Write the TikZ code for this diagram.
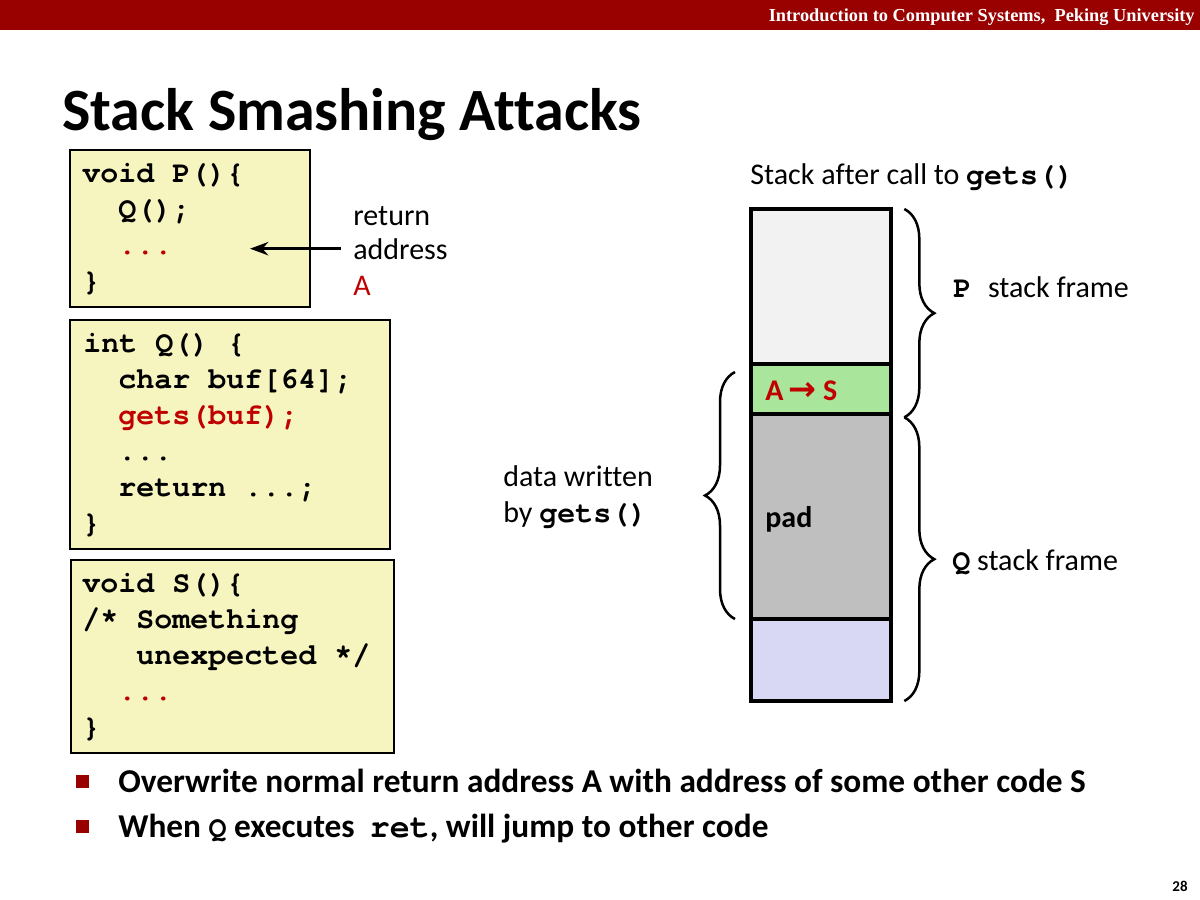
\documentclass[tikz,border=0pt]{standalone}
\usepackage{fontspec}
\setmainfont[Ligatures={NoCommon}]{Carlito}
\setmonofont{TeX Gyre Cursor}
\newfontfamily\timesfont{Liberation Serif}
\newfontfamily\symfont{DejaVu Sans}
\usetikzlibrary{positioning,decorations.pathreplacing,arrows.meta}

\definecolor{hdrred}{RGB}{153,0,0}
\definecolor{codered}{RGB}{192,0,0}
\definecolor{codebg}{RGB}{246,245,192}
\definecolor{stkgray}{RGB}{242,242,242}
\definecolor{stkgreen}{RGB}{169,229,154}
\definecolor{stkpad}{RGB}{191,191,191}
\definecolor{stkblue}{RGB}{216,216,244}

\newcommand{\cfont}{\fontsize{18}{20}\selectfont\ttfamily\bfseries}
\newcommand{\tfont}{\fontsize{18}{22}\selectfont}

\tikzset{
  codebox/.style={draw=black, line width=0.9pt, fill=codebg, anchor=north west, inner sep=0, outer sep=0},
  codeline/.style={anchor=base west, inner sep=0, font=\cfont},
  txt/.style={anchor=base west, inner sep=0, font=\tfont},
  stkbox/.style={draw=black, line width=2.2pt, minimum width=84pt, inner sep=0, outer sep=0},
  bracedec/.style={decorate, decoration={brace, amplitude=18pt}, line width=1.5pt},
  bulletsq/.style={fill=hdrred, minimum size=7.8pt, inner sep=0},
}

\begin{document}
\begin{tikzpicture}[x=0.6pt, y=-0.6pt]
    \useasboundingbox[fill=white] (0,0) rectangle (1200,900);

    % header bar and title
    \fill[hdrred] (0,0) rectangle (1200,30);
    \node[anchor=base east, inner sep=0, text=white, font={\fontsize{11}{13}\selectfont\timesfont\bfseries}] (hdr) at (1195,21) {Introduction to Computer Systems,\ \ Peking University};
    \node[anchor=base west, inner sep=0, font={\fontsize{36}{40}\selectfont\bfseries}] (title) at (62,130) {Stack Smashing Attacks};

    % code boxes
    \node[codebox, minimum width=144pt, minimum height=94.2pt] (boxP) at (70,150) {};
    \node[codebox, minimum width=192pt, minimum height=137.4pt] (boxQ) at (70,320) {};
    \node[codebox, minimum width=193.8pt, minimum height=115.8pt] (boxS) at (71,560) {};

    \node[codeline] (p1) at (82,182) {void P()\{};
    \node[codeline] (p2) at (118,218) {Q();};
    \node[codeline, text=codered] (p3) at (118,254) {...};
    \node[codeline] (p4) at (82,290) {\}};

    \node[codeline] (q1) at (83,352) {int Q() \{};
    \node[codeline] (q2) at (118,388) {char buf[64];};
    \node[codeline, text=codered] (q3) at (118,424) {gets(buf);};
    \node[codeline] (q4) at (118,460) {...};
    \node[codeline] (q5) at (118,496) {return ...;};
    \node[codeline] (q6) at (82,532) {\}};

    \node[codeline] (s1) at (82,592) {void S()\{};
    \node[codeline] (s2) at (82,628) {/* Something};
    \node[codeline] (s3) at (136,664) {unexpected */};
    \node[codeline, text=codered] (s4) at (118,700) {...};
    \node[codeline] (s5) at (82,736) {\}};

    % return address label
    \node[txt] (ret) at (353,225) {return};
    \node[txt] (addr) at (353,259) {address};
    \node[txt, text=codered] (addrA) at (353,295) {A};
    \coordinate (retA) at (250,250);
    \draw[-{Stealth[length=11pt,width=8pt]}, line width=1.6pt] ([xshift=-7.5pt]addr.west) -- (addr.west -| retA);

    % stack
    \node[txt] (stktitle) at (750,184) {Stack after call to {\cfont gets()}};
    \node[stkbox, fill=stkgray, minimum height=93pt, anchor=north west] (stkP) at (751,209) {};
    \node[stkbox, fill=stkgreen, minimum height=30pt, below=0pt of stkP] (stkRet) {};
    \node[stkbox, fill=stkpad, minimum height=123pt, below=0pt of stkRet] (stkPad) {};
    \node[stkbox, fill=stkblue, minimum height=49.2pt, below=0pt of stkPad] (stkLow) {};

    \node[txt, text=codered, font={\tfont\bfseries}] (ovw) at (765,400) {A\hspace{3pt}{\symfont\bfseries\fontsize{20}{22}\selectfont→}\hspace{4pt}S};
    \node[txt, font={\tfont\bfseries}] (pad) at (765,527) {pad};

    % braces
    \draw[bracedec] ([xshift=8pt]stkP.north east) -- ([xshift=8pt, yshift=-2pt]stkRet.south east);
    \draw[bracedec] ([xshift=8pt, yshift=-2pt]stkRet.south east) -- ([xshift=8pt]stkLow.south east);
    \draw[bracedec] ([xshift=-9.6pt]stkPad.south west) -- ([xshift=-9.6pt, yshift=-4.8pt]stkRet.north west);

    \node[txt] (plbl) at (953,297) {{\cfont P}\hspace{10pt}stack frame};
    \node[txt] (qlbl) at (952,570) {{\cfont Q} stack frame};
    \node[txt] (data1) at (503,486) {data written};
    \node[txt] (data2) at (503,522) {by {\cfont gets()}};

    % bullets
    \node[bulletsq] (b1) at (82.5,781.5) {};
    \node[bulletsq] (b2) at (82.5,826.5) {};
    \node[txt, font={\fontsize{20}{24}\selectfont\bfseries}] (t1) at (118,792) {Overwrite normal return address A with address of some other code S};
    \node[txt, font={\fontsize{20}{24}\selectfont\bfseries}] (t2) at (118,837) {When {\cfont Q} executes~~{\ttfamily ret}, will jump to other code};

    \node[anchor=base east, inner sep=0, font={\fontsize{9}{10}\selectfont\bfseries}] (pgno) at (1188,891) {28};
\end{tikzpicture}
\end{document}
